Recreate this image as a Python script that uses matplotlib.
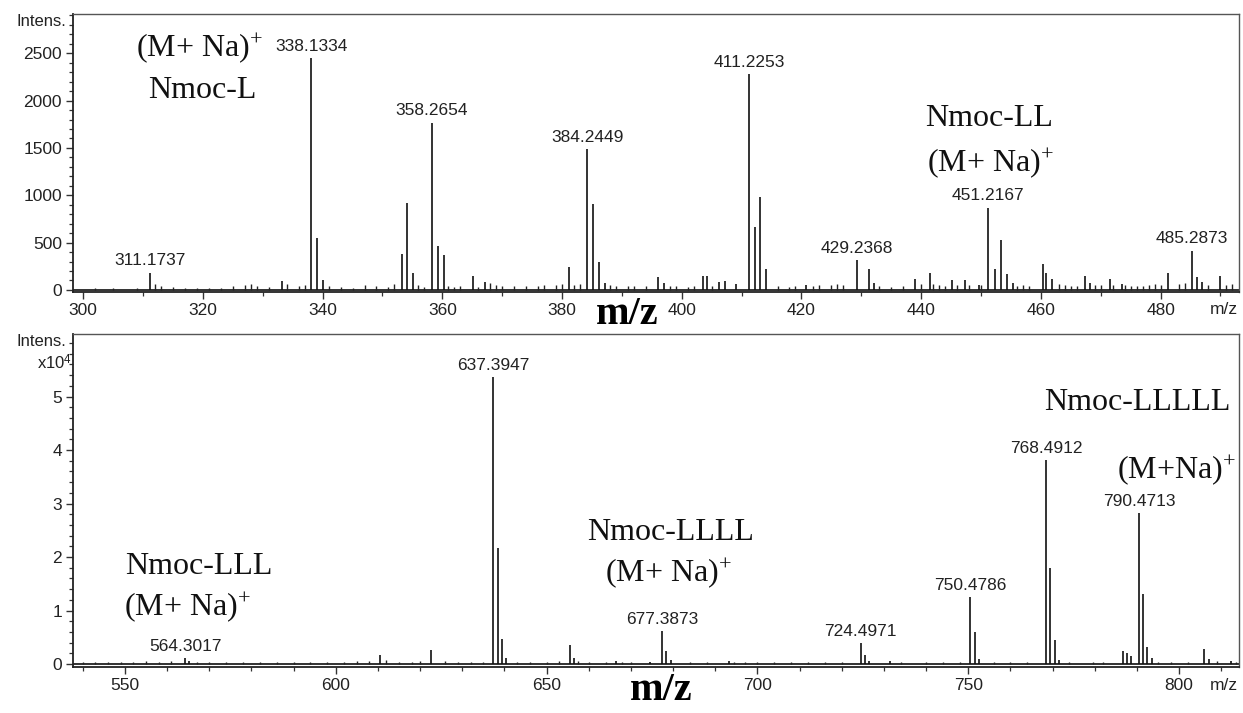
import matplotlib
matplotlib.use("Agg")
import matplotlib.pyplot as plt
from matplotlib.ticker import MultipleLocator, FixedLocator

plt.rcParams['mathtext.fontset'] = 'custom'
plt.rcParams['mathtext.rm'] = 'Liberation Serif'
plt.rcParams['mathtext.it'] = 'Liberation Serif:italic'
plt.rcParams['mathtext.bf'] = 'Liberation Serif:bold'
plt.rcParams['mathtext.sf'] = 'Liberation Sans'

SANS = ['Liberation Sans', 'DejaVu Sans']
SERIF = ['Liberation Serif', 'DejaVu Serif']

# ---------------- top spectrum (m/z 300-490) ----------------
top_main_mz = [311.1737, 338.1334, 339.13, 340.13, 333.3, 353.3, 354.1, 355.1,
               358.2654, 359.27, 360.2, 365.1, 367.1, 381.1, 384.2449, 385.25,
               386.2, 387.2, 396.0, 397.0, 403.6, 404.2, 406.3, 407.2, 409.1,
               411.2253, 412.23, 413.1, 414.1, 420.8, 429.2368, 431.3, 432.2,
               439.0, 441.4, 445.1, 447.4, 449.6, 451.2167, 452.3, 453.3, 454.4,
               455.4, 460.3, 460.8, 461.8, 467.3, 468.2, 471.5, 473.5, 481.3,
               485.2873, 486.0, 487.0, 490.0]
top_main_int = [183, 2447, 546, 100, 90, 380, 915, 183,
                1768, 465, 370, 148, 88, 240, 1490, 908,
                300, 70, 134, 78, 148, 148, 88, 95, 63,
                2282, 662, 979, 218, 53, 317, 225, 78,
                113, 183, 106, 106, 53, 870, 218, 528, 169,
                78, 275, 176, 113, 148, 78, 113, 63, 183,
                415, 141, 88, 148]
top_noise_mz = [302, 305, 309, 312, 313, 315, 317, 319, 321, 323, 325, 327, 328,
                329, 331, 334, 336, 337, 341, 343, 345, 347, 349, 351, 352, 356,
                357, 361, 362, 363, 366, 368, 369, 370, 372, 374, 376, 377, 379,
                380, 382, 383, 388, 389, 391, 392, 394, 398, 399, 401, 402, 405,
                416, 418, 419, 422, 423, 425, 426, 427, 433, 435, 437, 440, 442,
                443, 444, 446, 448, 450, 456, 457, 458, 463, 464, 465, 466, 469,
                470, 472, 474, 475, 476, 477, 478, 479, 480, 483, 484, 488, 491, 492]
top_noise_int = [20, 25, 20, 60, 40, 30, 25, 20, 20, 25, 40, 55, 60,
                 45, 30, 60, 40, 50, 40, 30, 25, 50, 45, 35, 60, 50,
                 30, 40, 35, 40, 30, 70, 50, 40, 45, 40, 45, 50, 55,
                 60, 55, 60, 50, 40, 45, 40, 40, 45, 40, 35, 40, 40,
                 40, 35, 40, 45, 55, 50, 60, 50, 40, 30, 45, 60, 60,
                 50, 45, 50, 55, 50, 45, 50, 40, 60, 50, 45, 40, 55,
                 50, 50, 50, 45, 40, 45, 50, 60, 55, 60, 70, 50, 55, 60]
top_labels = ["311.1737", "338.1334", "358.2654", "384.2449", "411.2253",
              "429.2368", "451.2167", "485.2873"]
top_yticks = [0, 500, 1000, 1500, 2000, 2500]

# ---------------- bottom spectrum (m/z 540-812), intensity x10^4 ----------------
bot_main_mz = [564.3017, 565.3, 610.5, 622.7, 637.3947, 638.40, 639.40, 640.4,
               655.5, 656.5, 666.5, 674.5, 677.3873, 678.39, 679.39, 693.2,
               724.4971, 725.5, 726.5, 731.4, 750.4786, 751.48, 752.48,
               768.4912, 769.49, 770.49, 771.5, 786.6, 787.6, 788.6,
               790.4713, 791.47, 792.47, 793.5, 806.0, 807.0, 812.2]
bot_main_int = [0.11, 0.06, 0.17, 0.27, 5.37, 2.17, 0.47, 0.11,
                0.36, 0.11, 0.06, 0.03, 0.62, 0.24, 0.08, 0.06,
                0.39, 0.17, 0.05, 0.05, 1.25, 0.59, 0.09,
                3.82, 1.79, 0.44, 0.08, 0.24, 0.20, 0.15,
                2.82, 1.30, 0.31, 0.11, 0.28, 0.09, 0.05]
bot_noise_mz = [540, 543, 546, 549, 552, 555, 558, 561, 567, 570, 574, 578, 582,
                586, 590, 594, 598, 602, 605, 608, 612, 615, 618, 620, 626, 629,
                632, 635, 643, 646, 650, 653, 657.5, 660, 664, 668, 670, 684, 688,
                694.4, 697, 700, 704, 708, 712, 716, 720, 734, 740, 744, 748, 756,
                760, 764, 774, 779.5, 782, 795, 798, 802, 809, 813.5]
bot_noise_int = [0.03, 0.04, 0.03, 0.04, 0.03, 0.05, 0.04, 0.05, 0.04, 0.03, 0.04,
                 0.03, 0.03, 0.04, 0.03, 0.04, 0.03, 0.04, 0.05, 0.06, 0.08, 0.04,
                 0.04, 0.05, 0.05, 0.04, 0.03, 0.04, 0.03, 0.04, 0.03, 0.05, 0.05,
                 0.03, 0.04, 0.04, 0.03, 0.03, 0.04, 0.04, 0.03, 0.03, 0.03, 0.03,
                 0.03, 0.03, 0.04, 0.03, 0.03, 0.03, 0.03, 0.03, 0.03, 0.03, 0.03,
                 0.04, 0.03, 0.04, 0.03, 0.03, 0.06, 0.04]
bot_labels = ["564.3017", "637.3947", "677.3873", "724.4971", "750.4786",
              "768.4912", "790.4713"]
bot_yticks = [0, 1, 2, 3, 4, 5]

W, H = 1243, 713
fig = plt.figure(figsize=(W / 100, H / 100), dpi=100)

TS = 12.5  # sans text size


def fx(px):
    return px / W


def fy(py):
    return 1 - py / H


ax1 = fig.add_axes([fx(73), fy(292), fx(1239) - fx(73), fy(14) - fy(292)])
ax2 = fig.add_axes([fx(73), fy(667), fx(1239) - fx(73), fy(334) - fy(667)])


def style(ax):
    for s in ['left', 'bottom']:
        ax.spines[s].set_linewidth(1.3)
        ax.spines[s].set_color('#222222')
    for s in ['top', 'right']:
        ax.spines[s].set_linewidth(1.0)
        ax.spines[s].set_color('#555555')
    ax.tick_params(axis='both', which='major', length=5, width=1.0, color='#333333',
                   labelsize=TS, labelcolor='#222222', pad=3)
    ax.tick_params(axis='both', which='minor', length=3, width=0.9, color='#333333')
    ax.tick_params(axis='x', which='both', direction='out')
    ax.tick_params(axis='y', which='both', direction='out')
    for lab in ax.get_xticklabels() + ax.get_yticklabels():
        lab.set_family(SANS)


def draw(ax, mz_main, int_main, mz_noise, int_noise, labels):
    ax.axhline(0, color='#222222', lw=1.3, zorder=2)
    ax.vlines(mz_noise, 0, int_noise, color='#222222', lw=1.0, zorder=2)
    ax.vlines(mz_main, 0, int_main, color='#111111', lw=1.2, zorder=3)
    for lab in labels:
        v = float(lab)
        i = min(range(len(mz_main)), key=lambda k: abs(mz_main[k] - v))
        ax.annotate(lab, xy=(mz_main[i], int_main[i]), xytext=(0, 3),
                    textcoords='offset points', ha='center', va='bottom',
                    fontsize=TS, family=SANS, color='#222222')


draw(ax1, top_main_mz, top_main_int, top_noise_mz, top_noise_int, top_labels)
ax1.set_xlim(298.3, 493.1)
ax1.set_ylim(-22, 2915)
ax1.xaxis.set_major_locator(MultipleLocator(20))
ax1.xaxis.set_minor_locator(MultipleLocator(10))
ax1.yaxis.set_major_locator(FixedLocator(top_yticks))
ax1.yaxis.set_minor_locator(MultipleLocator(100))
style(ax1)

draw(ax2, bot_main_mz, bot_main_int, bot_noise_mz, bot_noise_int, bot_labels)
ax2.set_xlim(537.7, 814.2)
ax2.set_ylim(-0.056, 6.17)
ax2.xaxis.set_major_locator(MultipleLocator(50))
ax2.xaxis.set_minor_locator(MultipleLocator(10))
ax2.yaxis.set_major_locator(FixedLocator(bot_yticks))
ax2.yaxis.set_minor_locator(MultipleLocator(0.2))
ax2.yaxis.set_major_formatter(plt.FuncFormatter(lambda v, p: f"{v:.0f}"))
style(ax2)

# axis captions
fig.text(fx(66), fy(22), "Intens.", ha='right', va='center', fontsize=TS - 0.5, family=SANS, color='#222222')
fig.text(fx(66), fy(342), "Intens.", ha='right', va='center', fontsize=TS - 0.5, family=SANS, color='#222222')
fig.text(fx(72), fy(363), r"x10$^{\mathsf{4}}$", ha='right', va='center', fontsize=TS - 0.5,
         family=SANS, color='#222222')
fig.text(fx(1238), fy(310), "m/z", ha='right', va='center', fontsize=TS, family=SANS, color='#222222')
fig.text(fx(1238), fy(685), "m/z", ha='right', va='center', fontsize=TS, family=SANS, color='#222222')
fig.text(fx(627), fy(314), "m/z", ha='center', va='center', fontsize=29, family=SERIF,
         weight='bold', color='black')
fig.text(fx(661), fy(690), "m/z", ha='center', va='center', fontsize=29, family=SERIF,
         weight='bold', color='black')

# species annotations
ann = dict(fontsize=23, family=SERIF, color='#111111', va='center')
fig.text(fx(199), fy(48), r"(M+ Na)$^{+}$", ha='center', **ann)
fig.text(fx(202), fy(90), "Nmoc-L", ha='center', **ann)
fig.text(fx(989), fy(118), "Nmoc-LL", ha='center', **ann)
fig.text(fx(990), fy(163), r"(M+ Na)$^{+}$", ha='center', **ann)
fig.text(fx(199), fy(566), "Nmoc-LLL", ha='center', **ann)
fig.text(fx(187), fy(607), r"(M+ Na)$^{+}$", ha='center', **ann)
fig.text(fx(671), fy(533), "Nmoc-LLLL", ha='center', **ann)
fig.text(fx(668), fy(573), r"(M+ Na)$^{+}$", ha='center', **ann)
fig.text(fx(1137), fy(403), "Nmoc-LLLLL", ha='center', **ann)
fig.text(fx(1236), fy(470), r"(M+Na)$^{+}$", ha='right', **ann)

fig.savefig("out.png", dpi=100)
